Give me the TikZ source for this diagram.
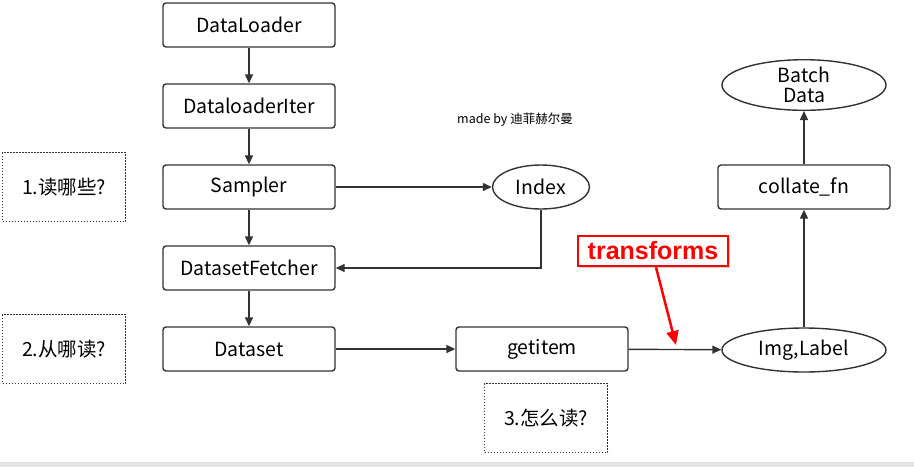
\documentclass[tikz,border=0pt]{standalone}
\usepackage{fontspec}
\usepackage{xcolor}
\usetikzlibrary{positioning, arrows.meta, shadows}
\setmainfont{Noto Sans CJK SC}
\newfontfamily\boldsans{Liberation Sans}
\definecolor{linegray}{HTML}{333333}
\definecolor{stripgray}{HTML}{E3E3E3}

\tikzset{
  procbox/.style={draw=linegray, line width=1.4pt, rounded corners=3pt,
    minimum width=172pt, minimum height=44pt, font=\fontsize{19.5}{22}\selectfont},
  dataoval/.style={draw=linegray, line width=1.4pt, ellipse,
    minimum width=164pt, minimum height=44pt, inner sep=0pt,
    font=\fontsize{19.5}{22}\selectfont},
  notebox/.style={draw=linegray, line width=1.3pt, dash pattern=on 1.3pt off 1.7pt,
    minimum width=123pt, minimum height=69pt, font=\fontsize{19.5}{22}\selectfont},
  flow/.style={draw=linegray, line width=1.4pt, -{Triangle[length=9pt, width=8pt]}}
}
\usetikzlibrary{shapes.geometric}

\begin{document}
\begin{tikzpicture}[x=1pt, y=-1pt]
  \useasboundingbox[fill=white] (0,0) rectangle (914,467);
  \fill[stripgray] (0,462) rectangle (914,467);

  % main chain
  \node[procbox] (loader)  at (249,25)  {DataLoader};
  \node[procbox] (iter)    at (249,106) {DataloaderIter};
  \node[procbox] (sampler) at (249,187) {Sampler};
  \node[procbox] (fetcher) at (249,268) {DatasetFetcher};
  \node[procbox] (dataset) at (249,349) {Dataset};
  \node[procbox] (getitem) at (542,349) {getitem};
  \node[procbox] (collate) at (804,187) {collate\_fn};

  \node[dataoval, minimum width=97pt] (index) at (541,187) {Index};
  \node[dataoval] (imglabel) at (804,350) {Img,Label};
  \node[dataoval, minimum height=40pt, align=center,
        font=\fontsize{19.5}{20}\selectfont] (batch) at (804,85) {Batch\\Data};

  % questions
  \node[notebox] (q1) at (64,187) {1.读哪些?};
  \node[notebox] (q2) at (64,349) {2.从哪读?};
  \node[notebox] (q3) at (546,418) {3.怎么读?};

  \node[font=\fontsize{12.5}{14}\selectfont] (credit) at (515,120) {made by 迪菲赫尔曼};

  % connectors
  \draw[flow] (loader) -- (iter);
  \draw[flow] (iter) -- (sampler);
  \draw[flow] (sampler) -- (fetcher);
  \draw[flow] (fetcher) -- (dataset);
  \draw[flow] (sampler) -- (index);
  \draw[flow] (index.south) |- (fetcher.east);
  \draw[flow] (dataset) -- (getitem);
  \draw[flow] (getitem) -- (imglabel);
  \draw[flow] (imglabel) -- (collate);
  \draw[flow] (collate) -- (batch);

  % transforms callout
  \node[draw=red, line width=2.5pt, fill=white, minimum width=150pt,
        minimum height=30pt, inner sep=0pt,
        drop shadow={opacity=0.35, shadow xshift=2pt, shadow yshift=-2pt},
        font=\boldsans\bfseries\fontsize{25}{28}\selectfont, text=red]
        (transforms) at (653,251) {transforms};
  \coordinate (tfpoint) at (676,345);
  \draw[red, line width=2.5pt, -{Triangle[length=14pt, width=12pt]}]
        (transforms.south) ++(3,0) -- (tfpoint);
\end{tikzpicture}
\end{document}
